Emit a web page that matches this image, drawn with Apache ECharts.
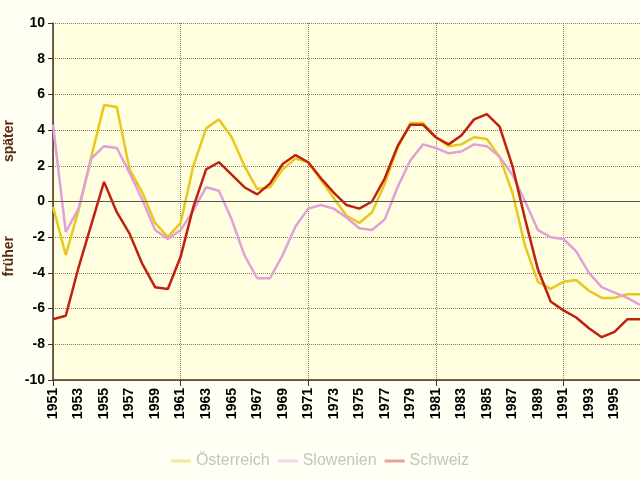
<!DOCTYPE html>
<html>
<head>
<meta charset="utf-8">
<script src="https://cdn.jsdelivr.net/npm/echarts@6/dist/echarts.min.js"></script>
<style>
  html, body { margin: 0; padding: 0; background: #fffff4; }
  #chart { width: 640px; height: 480px; }
</style>
</head>
<body>
<div id="chart"></div>
<script>
const years = [];
for (let y = 1951; y <= 1997; y++) years.push(String(y));

const oesterreich = [-0.3, -3.0, -0.5, 2.5, 5.4, 5.3, 1.8, 0.5, -1.2, -2.0,
    -1.2, 2.0, 4.1, 4.6, 3.6, 2.0, 0.7, 0.8, 1.8, 2.4,
    2.2, 1.2, 0.2, -0.8, -1.2, -0.6, 1.0, 3.0, 4.4, 4.4,
    3.6, 3.1, 3.2, 3.6, 3.5, 2.5, 0.5, -2.5, -4.5, -4.9,
    -4.5, -4.4, -5.0, -5.4, -5.4, -5.2, -5.2];
const slowenien = [4.3, -1.7, -0.4, 2.4, 3.1, 3.0, 1.6, 0.1, -1.6, -2.1,
    -1.6, -0.5, 0.8, 0.6, -1.0, -3.0, -4.3, -4.3, -3.0, -1.4,
    -0.4, -0.2, -0.4, -0.9, -1.5, -1.6, -1.0, 0.8, 2.3, 3.2,
    3.0, 2.7, 2.8, 3.2, 3.1, 2.5, 1.5, 0.0, -1.6, -2.0,
    -2.1, -2.8, -4.0, -4.8, -5.1, -5.4, -5.8];
const schweiz = [-6.6, -6.4, -3.7, -1.3, 1.1, -0.6, -1.8, -3.5, -4.8, -4.9,
    -3.1, -0.3, 1.8, 2.2, 1.5, 0.8, 0.4, 1.0, 2.1, 2.6,
    2.2, 1.3, 0.5, -0.2, -0.4, 0.0, 1.3, 3.1, 4.3, 4.3,
    3.6, 3.2, 3.7, 4.6, 4.9, 4.2, 2.0, -1.0, -3.8, -5.6,
    -6.1, -6.5, -7.1, -7.6, -7.3, -6.6, -6.6];

const chart = echarts.init(document.getElementById('chart'));

function line(name, data, color) {
    return {
        name: name,
        type: 'line',
        data: data,
        symbol: 'none',
        lineStyle: { color: color, width: 2.5 },
        itemStyle: { color: color }
    };
}

chart.setOption({
    backgroundColor: '#fffff4',
    animation: false,
    grid: { left: 53, right: 0, top: 23, bottom: 100, backgroundColor: '#ffffe0', show: true, borderWidth: 0 },
    legend: {
        bottom: 6,
        left: 'center',
        itemWidth: 20,
        itemHeight: 3,
        itemGap: 8,
        icon: 'rect',
        textStyle: { color: '#c4c4c4', fontSize: 16, fontFamily: 'Liberation Sans' },
        data: [
            { name: 'Österreich', itemStyle: { color: '#f2e6a0' } },
            { name: 'Slowenien', itemStyle: { color: '#f2d8ee' } },
            { name: 'Schweiz', itemStyle: { color: '#e8a098' } }
        ]
    },
    graphic: [
        { type: 'text', left: 2, top: 120, rotation: Math.PI / 2,
          style: { text: 'später', fill: '#5a2a14', font: 'bold 14px Liberation Sans' } },
        { type: 'text', left: 2, top: 236, rotation: Math.PI / 2,
          style: { text: 'früher', fill: '#5a2a14', font: 'bold 14px Liberation Sans' } }
    ],
    xAxis: {
        type: 'category',
        data: years,
        boundaryGap: false,
        axisLine: { onZero: false, lineStyle: { color: '#4a3020', width: 1.5 } },
        axisTick: { interval: 9, length: 6, lineStyle: { color: '#4a3020' } },
        axisLabel: {
            interval: function (i, v) { return i % 2 === 0 && v !== '1997'; },
            rotate: 90, color: '#000', fontWeight: 'bold', margin: 8,
            fontSize: 14, fontFamily: 'Liberation Sans'
        },
        splitLine: { show: true, interval: 9, lineStyle: { color: '#8a7a60', type: 'dotted' } }
    },
    yAxis: {
        type: 'value',
        min: -10,
        max: 10,
        interval: 2,
        axisLine: { show: true, lineStyle: { color: '#4a3020', width: 1.5 } },
        axisTick: { show: true, length: 5, lineStyle: { color: '#4a3020' } },
        axisLabel: { color: '#000', fontWeight: 'bold', fontSize: 14, fontFamily: 'Liberation Sans' },
        splitLine: { lineStyle: { color: '#8a7a60', type: 'dotted' } }
    },
    series: [
        Object.assign(line('Österreich', oesterreich, '#e8c81c'), {
            markLine: {
                silent: true, symbol: 'none', label: { show: false },
                lineStyle: { color: '#555', type: 'solid', width: 1.2 },
                data: [{ yAxis: 0 }]
            }
        }),
        line('Slowenien', slowenien, '#e0a0d8'),
        line('Schweiz', schweiz, '#c0200e')
    ]
});
</script>
</body>
</html>
